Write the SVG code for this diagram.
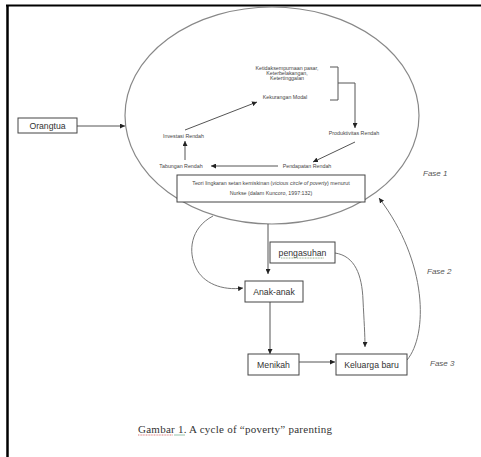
<svg xmlns="http://www.w3.org/2000/svg" width="481" height="457" viewBox="0 0 481 457">
<style>
.t{font-family:"Liberation Sans",Arial,sans-serif;fill:#333;text-anchor:middle}
.s{font-size:5.3px;fill:#444}
.b{font-size:8.7px}
.f{font-size:8px;font-style:italic;fill:#555;text-anchor:start}
.box{fill:#fff;stroke:#444;stroke-width:1}
.ln{fill:none;stroke:#555;stroke-width:1}
.cv{fill:none;stroke:#777;stroke-width:1}
</style>
<defs>
<marker id="ah" markerWidth="5" markerHeight="5" refX="5" refY="2.5" orient="auto" markerUnits="userSpaceOnUse">
<path d="M0,0 L5,2.5 L0,5 z" fill="#222"/>
</marker>
</defs>
<rect width="481" height="457" fill="#fff"/>
<g id="frame">
<line x1="6" y1="5.5" x2="481" y2="5.5" stroke="#000" stroke-width="2"/>
<line x1="7.5" y1="5" x2="7.5" y2="457" stroke="#000" stroke-width="2.5"/>
</g>
<g id="cycle">
<ellipse cx="272" cy="115.5" rx="147" ry="108.5" fill="none" stroke="#888" stroke-width="1.2"/>
</g>
<g id="connectors">
<line class="ln" x1="77" y1="126" x2="125" y2="126" marker-end="url(#ah)"/>
<line class="ln" x1="185" y1="130" x2="257" y2="102" marker-end="url(#ah)"/>
<path class="ln" d="M330 67 H338 V100 H330 M338 83 H355 V128" marker-end="url(#ah)"/>
<line class="ln" x1="355" y1="142" x2="313" y2="162" marker-end="url(#ah)"/>
<line class="ln" x1="278" y1="166" x2="211" y2="166" marker-end="url(#ah)"/>
<line class="ln" x1="185" y1="160" x2="185" y2="141" marker-end="url(#ah)"/>
<line class="ln" x1="268" y1="224" x2="268" y2="274" marker-end="url(#ah)"/>
<path class="cv" d="M213 216 C190 228 188 252 196 268 C203 283 222 291 243 288" marker-end="url(#ah)"/>
<path class="cv" d="M335 253 C355 256 362 275 363 300 C364 320 365 335 365 347" marker-end="url(#ah)"/>
<line class="ln" x1="270" y1="302" x2="270" y2="354" marker-end="url(#ah)"/>
<line class="ln" x1="299" y1="362" x2="335" y2="362" marker-end="url(#ah)"/>
<path class="cv" d="M407 360 C428 335 428 262 379 198" marker-end="url(#ah)"/>
</g>
<g id="ketidaksempurnaan">
<text class="t s" x="287" y="69.8">Ketidaksempurnaan pasar,</text>
<text class="t s" x="287" y="74.8">Keterbelakangan,</text>
<text class="t s" x="287" y="79.8">Ketertinggalan</text>
</g>
<g id="kekurangan-modal"><text class="t s" x="285" y="98.8">Kekurangan Modal</text></g>
<g id="investasi-rendah"><text class="t s" x="183.5" y="137.8">Investasi Rendah</text></g>
<g id="produktivitas-rendah"><text class="t s" x="354" y="134.8">Produktivitas Rendah</text></g>
<g id="pendapatan-rendah"><text class="t s" x="307" y="167.8">Pendapatan Rendah</text></g>
<g id="tabungan-rendah"><text class="t s" x="181" y="167.8">Tabungan Rendah</text></g>
<g id="teori">
<rect class="box" x="177" y="175" width="188" height="27"/>
<text class="t s" x="271" y="185">Teori lingkaran setan kemiskinan (<tspan font-style="italic">vicious circle of poverty</tspan>) menurut</text>
<text class="t s" x="271" y="194.5">Nurkse (dalam Kuncoro, 1997:132)</text>
</g>
<g id="orangtua">
<rect class="box" x="18" y="118" width="59" height="15"/>
<text class="t b" x="47.5" y="128.7">Orangtua</text>
</g>
<g id="pengasuhan">
<rect class="box" x="270" y="242" width="65" height="21"/>
<text class="t b" x="302.5" y="255.5">pengasuhan</text>
<path d="M281 258 H324" stroke="#7a9a6a" stroke-width="0.8" stroke-dasharray="1 0.6"/>
</g>
<g id="anak-anak">
<rect class="box" x="245" y="281" width="58" height="21"/>
<text class="t b" x="274" y="294.5">Anak-anak</text>
</g>
<g id="menikah">
<rect class="box" x="248" y="354" width="51" height="21"/>
<text class="t b" x="273.5" y="367.5">Menikah</text>
</g>
<g id="keluarga-baru">
<rect class="box" x="336" y="354" width="71" height="21"/>
<text class="t b" x="371.5" y="367.5">Keluarga baru</text>
</g>
<g id="fase">
<text class="t f" x="423" y="176">Fase 1</text>
<text class="t f" x="427" y="274">Fase 2</text>
<text class="t f" x="430" y="366">Fase 3</text>
</g>
<g id="caption">
<text x="138" y="432.5" font-family="'Liberation Serif','Times New Roman',serif" font-size="11" fill="#333" text-anchor="start" textLength="194" lengthAdjust="spacing">Gambar 1. A cycle of “poverty” parenting</text>
<path d="M138 435 H173" stroke="#c44" stroke-width="0.7" stroke-dasharray="1 0.6"/>
<path d="M174 435 H185" stroke="#6a8" stroke-width="0.7"/>
</g>
</svg>
